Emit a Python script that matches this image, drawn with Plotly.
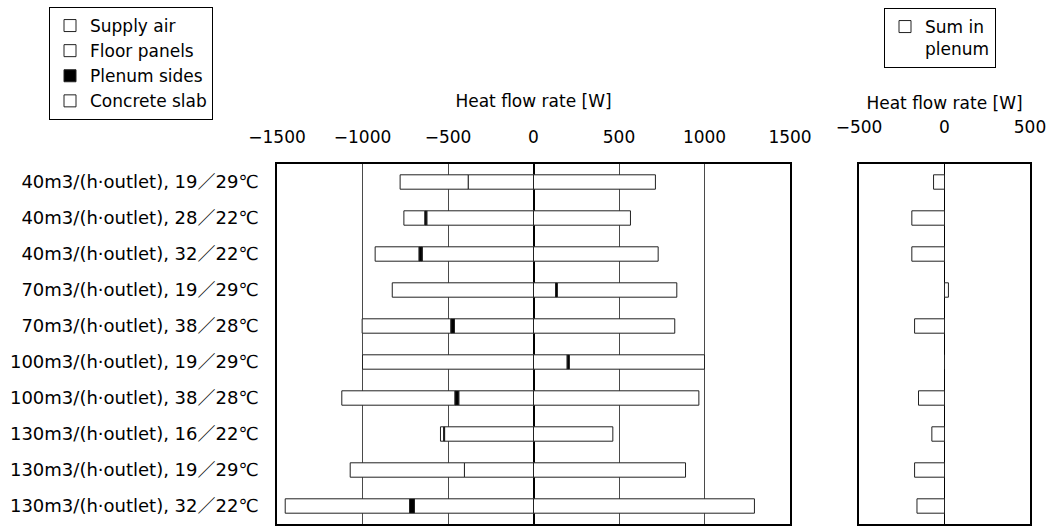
import plotly.graph_objects as go

categories = [
    "40m3/(h·outlet), 19／29℃",
    "40m3/(h·outlet), 28／22℃",
    "40m3/(h·outlet), 32／22℃",
    "70m3/(h·outlet), 19／29℃",
    "70m3/(h·outlet), 38／28℃",
    "100m3/(h·outlet), 19／29℃",
    "100m3/(h·outlet), 38／28℃",
    "130m3/(h·outlet), 16／22℃",
    "130m3/(h·outlet), 19／29℃",
    "130m3/(h·outlet), 32／22℃",
]

supply_air = [-382, -624, -651, -826, -462, -1000, -437, -520, -404, -696]
floor_panels = [-398, 567, 729, 129, 826, 197, 967, 464, -668, 1292]
plenum_sides = [0, -12, -19, 11, -22, 13, -23, -6, 0, -29]
concrete_slab = [713, -122, -256, 698, -518, 790, -661, -18, 889, -727]
sum_in_plenum = [-64, -191, -191, 23, -175, 0, -152, -74, -175, -161]

left_ticks = [-1500, -1000, -500, 0, 500, 1000, 1500]
right_ticks = [-500, 0, 500]

FONT = "DejaVu Sans, Noto Sans CJK JP, sans-serif"
W, H = 1051, 527

fig = go.Figure()
series = [
    ("Supply air", supply_air, "white"),
    ("Floor panels", floor_panels, "white"),
    ("Plenum sides", plenum_sides, "black"),
    ("Concrete slab", concrete_slab, "white"),
]
for name, vals, col in series:
    fig.add_trace(go.Bar(
        y=categories, x=vals, name=name, orientation="h",
        marker=dict(color=col, line=dict(color="#222", width=1)),
        width=0.4, xaxis="x", yaxis="y", legend="legend",
    ))

fig.add_trace(go.Bar(
    y=categories, x=sum_in_plenum, name="Sum in<br>plenum", orientation="h",
    marker=dict(color="white", line=dict(color="#222", width=1)),
    width=0.4, xaxis="x2", yaxis="y2", legend="legend2",
))

ydom = [3 / H, 363 / H]
fig.update_layout(
    width=W, height=H,
    margin=dict(l=0, r=0, t=0, b=0, autoexpand=False),
    paper_bgcolor="white", plot_bgcolor="white",
    font=dict(family=FONT, size=17, color="black"),
    barmode="relative",
    bargap=0.6,
    xaxis=dict(
        domain=[277 / W, 790 / W], range=[-1500, 1500], side="top",
        tickvals=left_ticks, ticks="", ticklabelstandoff=12,
        showgrid=True, gridcolor="#4a4a4a", gridwidth=1,
        zeroline=True, zerolinecolor="black", zerolinewidth=1.5,
        showline=True, linecolor="black", linewidth=1.5, mirror=True,
        title=dict(text="Heat flow rate [W]", font=dict(size=17), standoff=16),
        anchor="y", fixedrange=True, automargin=False,
    ),
    yaxis=dict(
        domain=ydom, categoryorder="array", categoryarray=categories,
        autorange="reversed", ticks="", ticklabelstandoff=13,
        tickfont=dict(size=18),
        showgrid=False, zeroline=False,
        showline=True, linecolor="black", linewidth=1.5, mirror=True,
        anchor="x", fixedrange=True, automargin=False,
    ),
    xaxis2=dict(
        domain=[859 / W, 1030 / W], range=[-500, 500], side="top",
        tickvals=right_ticks, ticks="", ticklabelstandoff=22,
        showgrid=False,
        zeroline=True, zerolinecolor="black", zerolinewidth=1,
        showline=True, linecolor="black", linewidth=1.5, mirror=True,
        title=dict(text="Heat flow rate [W]", font=dict(size=17), standoff=4),
        anchor="y2", fixedrange=True, automargin=False,
    ),
    yaxis2=dict(
        domain=ydom, categoryorder="array", categoryarray=categories,
        autorange="reversed", showticklabels=False, ticks="",
        showgrid=False, zeroline=False,
        showline=True, linecolor="black", linewidth=1.5, mirror=True,
        anchor="x2", fixedrange=True, automargin=False,
    ),
    legend=dict(
        x=49 / W, y=1 - 7 / H, xanchor="left", yanchor="top",
        bordercolor="black", borderwidth=1, bgcolor="white",
        font=dict(size=17), traceorder="normal", tracegroupgap=0,
    ),
    legend2=dict(
        x=884 / W, y=1 - 8 / H, xanchor="left", yanchor="top",
        bordercolor="black", borderwidth=1, bgcolor="white",
        font=dict(size=17), valign="top",
    ),
    showlegend=True,
)

fig.write_html("out.html")
